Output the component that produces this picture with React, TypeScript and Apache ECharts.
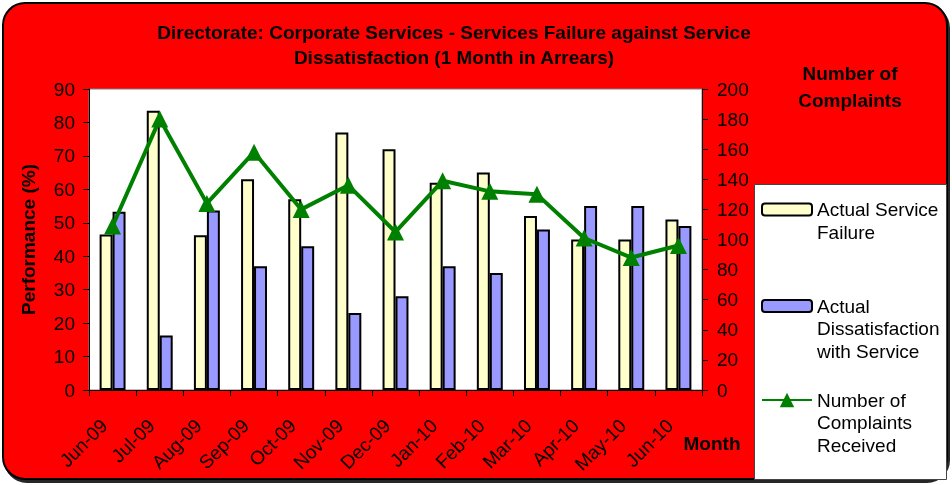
import React, { useEffect, useRef } from "react";
import * as echarts from "echarts";

const months = ["Jun-09", "Jul-09", "Aug-09", "Sep-09", "Oct-09", "Nov-09", "Dec-09", "Jan-10", "Feb-10", "Mar-10", "Apr-10", "May-10", "Jun-10"];
const actualServiceFailure = [46.5, 83.5, 46.3, 63, 57, 77, 72, 62, 65, 52, 45, 45, 51];
const actualDissatisfaction = [53.3, 16.3, 53.7, 37, 43, 23, 28, 37, 35, 48, 55, 55, 49];
const complaintsReceived = [109, 180, 124, 158, 120, 136, 105, 139, 132, 130, 101, 88, 96];

const seriesNames = ["Actual Service Failure", "Actual Dissatisfaction with Service", "Number of Complaints Received"];
// leading blank lines keep the icon level with the first text line
const legendLabels = ["\nActual Service\nFailure", "\n\nActual\nDissatisfaction\nwith Service", "\n\nNumber of\nComplaints\nReceived"];

const FONT = "'Liberation Sans', Arial, Helvetica, sans-serif";

export default function App() {
  const ref = useRef<HTMLDivElement>(null);
  useEffect(() => {
    const chart = echarts.init(ref.current!, null, { renderer: "svg" });
    const axisLineStyle = { color: "#000", width: 1 };
    const legendBase = (i: number, top: number, itemHeight: number) => ({
      show: true,
      orient: "vertical",
      left: 761,
      top,
      padding: 0,
      itemWidth: 50,
      itemHeight,
      itemGap: 0,
      selectedMode: false,
      z: 10,
      data: [seriesNames[i]],
      formatter: () => legendLabels[i],
      textStyle: {
        fontFamily: FONT,
        fontSize: 19,
        color: "#000",
        lineHeight: 22.5,
      },
    });
    const boldText = { fontFamily: FONT, fontSize: 19, fontWeight: "bold", color: "#000" };
    const option: any = {
      animation: false,
      textStyle: { fontFamily: FONT },
      graphic: [
        {
          type: "rect",
          z: -100,
          shape: { x: 3, y: 3, width: 944, height: 476, r: 22 },
          style: {
            fill: "#FF0000",
            stroke: "#000",
            lineWidth: 2,
            shadowColor: "rgba(0,0,0,0.85)",
            shadowOffsetX: 2,
            shadowOffsetY: 3,
            shadowBlur: 1,
          },
        },
        {
          type: "rect",
          z: -50,
          shape: { x: 754.5, y: 184.5, width: 192, height: 295 },
          style: { fill: "#FFFFFF", stroke: "#444", lineWidth: 1 },
        },
      ],
      title: [
        {
          text: "Directorate: Corporate Services - Services Failure against Service\nDissatisfaction (1 Month in Arrears)",
          left: 454,
          top: 19.5,
          padding: 0,
          textAlign: "center",
          textStyle: { ...boldText, lineHeight: 25.5 },
        },
        {
          text: "Number of\nComplaints",
          left: 850,
          top: 59.5,
          padding: 0,
          textAlign: "center",
          textStyle: { ...boldText, lineHeight: 27 },
        },
        {
          text: "Month",
          left: 712,
          top: 432,
          padding: 0,
          textAlign: "center",
          textStyle: { ...boldText, lineHeight: 22 },
        },
      ],
      legend: [legendBase(0, 175.75, 12), legendBase(1, 249.75, 12), legendBase(2, 343.75, 18)],
      grid: {
        left: 89,
        top: 89,
        width: 613,
        height: 301,
        show: true,
        backgroundColor: "#FFFFFF",
        borderColor: "#808080",
        borderWidth: 1,
      },
      xAxis: {
        type: "category",
        data: months,
        boundaryGap: true,
        axisLine: { show: true, lineStyle: axisLineStyle },
        axisTick: { show: true, length: 6, alignWithLabel: false, lineStyle: axisLineStyle },
        axisLabel: {
          interval: 0,
          rotate: 45,
          margin: 24,
          padding: [0, 12, 0, 0],
          fontFamily: FONT,
          fontSize: 19,
          color: "#000",
        },
        splitLine: { show: false },
      },
      yAxis: [
        {
          type: "value",
          min: 0,
          max: 90,
          interval: 10,
          position: "left",
          name: "Performance (%)",
          nameLocation: "middle",
          nameGap: 51,
          nameTextStyle: boldText,
          axisLine: { show: true, lineStyle: axisLineStyle },
          axisTick: { show: true, length: 6, lineStyle: axisLineStyle },
          axisLabel: { margin: 14, fontFamily: FONT, fontSize: 19, color: "#000" },
          splitLine: { show: false },
        },
        {
          type: "value",
          min: 0,
          max: 200,
          interval: 20,
          position: "right",
          axisLine: { show: true, lineStyle: axisLineStyle },
          axisTick: { show: true, length: 6, lineStyle: axisLineStyle },
          axisLabel: { margin: 15, fontFamily: FONT, fontSize: 19, color: "#000" },
          splitLine: { show: false },
        },
      ],
      series: [
        {
          name: seriesNames[0],
          type: "bar",
          data: actualServiceFailure,
          barGap: "0%",
          barCategoryGap: "45%",
          itemStyle: { color: "#FFFFCC", borderColor: "#000", borderWidth: 2 },
        },
        {
          name: seriesNames[1],
          type: "bar",
          data: actualDissatisfaction,
          barGap: "0%",
          barCategoryGap: "45%",
          itemStyle: { color: "#9999FF", borderColor: "#000", borderWidth: 2 },
        },
        {
          name: seriesNames[2],
          type: "line",
          yAxisIndex: 1,
          data: complaintsReceived,
          symbol: "triangle",
          symbolSize: 17,
          showSymbol: true,
          z: 5,
          lineStyle: { color: "#008000", width: 4 },
          itemStyle: { color: "#008000" },
        },
      ],
    };
    chart.setOption(option);
    return () => chart.dispose();
  }, []);
  return <div ref={ref} style={{ position: "fixed", left: 0, top: 0, width: 952, height: 485 }} />;
}
